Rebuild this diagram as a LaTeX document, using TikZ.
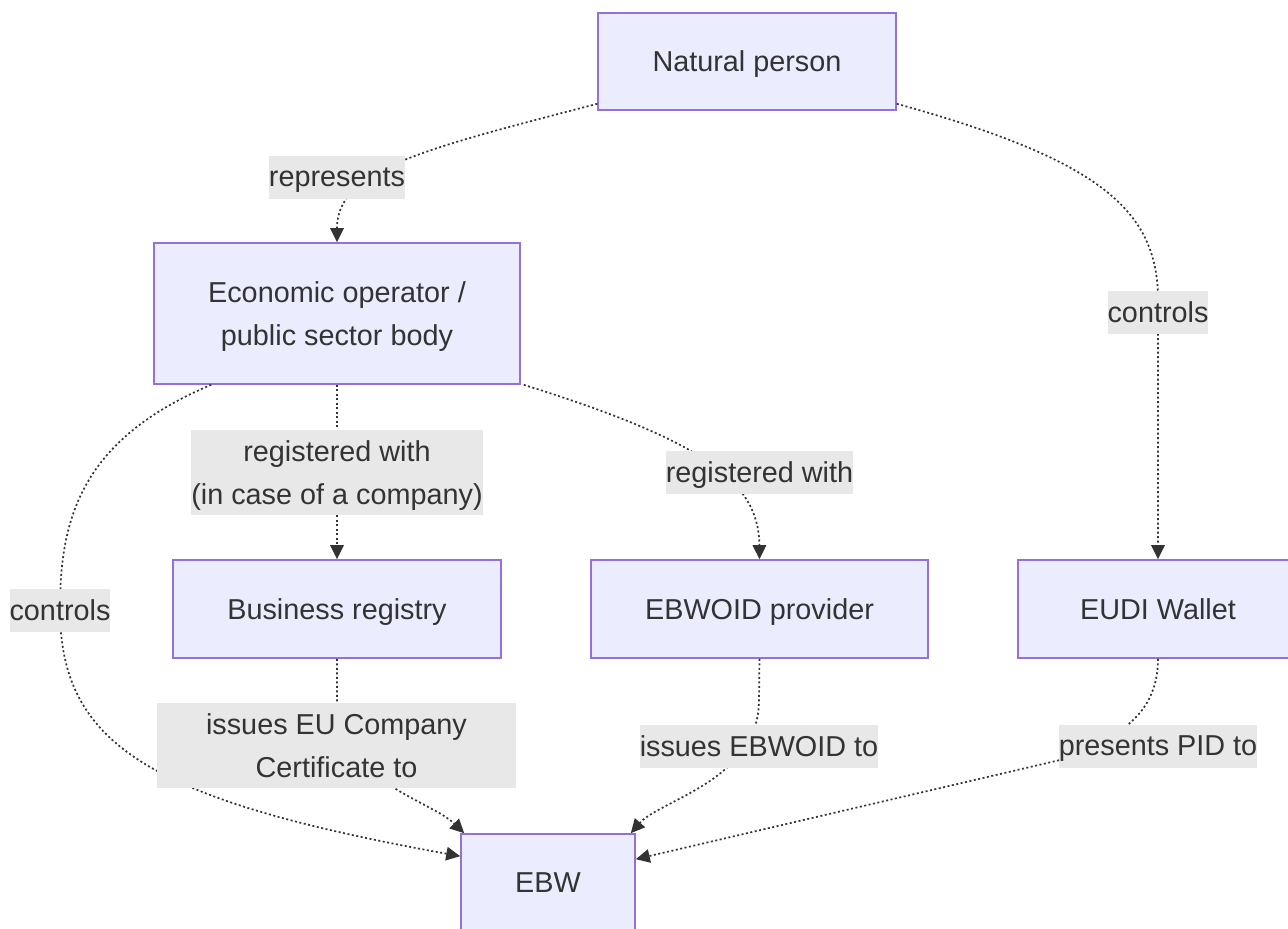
\documentclass[tikz,border=0pt]{standalone}
\usepackage{fontspec}
\setmainfont{Liberation Sans}
\usetikzlibrary{arrows.meta,calc}
\definecolor{boxfill}{HTML}{ECECFF}
\definecolor{boxline}{HTML}{9370DB}
\definecolor{ink}{HTML}{333333}
\definecolor{labelbg}{HTML}{E8E8E8}

\begin{document}
\begin{tikzpicture}[x=1pt,y=-1pt,
  every node/.style={font=\fontsize{28.8}{43}\selectfont, text=ink, text depth=0pt},
  box/.style={draw=boxline, fill=boxfill, line width=1.6pt, inner sep=0pt, align=center},
  elabel/.style={fill=labelbg, inner sep=0pt, align=center, minimum height=43pt},
  edge/.style={draw=ink, line width=1.7pt, dash pattern=on 2pt off 2.5pt,
    -{Triangle[length=14pt,width=13.5pt]}}]

\useasboundingbox (0,0) rectangle (1288,929);

% entities
\node[box, minimum width=298pt, minimum height=97pt] (np) at (747,61.5) {Natural person};
\node[box, minimum width=366pt, minimum height=141pt] (eco) at (337,313.5) {Economic operator /\\public sector body};
\node[box, minimum width=328pt, minimum height=98pt] (bus) at (337,609) {Business registry};
\node[box, minimum width=337pt, minimum height=98pt] (ebwoid) at (759.5,609) {EBWOID provider};
\node[box, minimum width=280pt, minimum height=98pt] (wal) at (1158,609) {EUDI Wallet};
\node[box, minimum width=174pt, minimum height=98pt] (ebw) at (548,883) {EBW};

% relations
\draw[edge] ([yshift=7pt]np.south west) .. controls (420,150) and (337,170) .. (eco.north);
\draw[edge] ([yshift=7pt]np.south east) .. controls (1100,160) and (1158,210) .. (1158,300) -- (wal.north);
\draw[edge] (eco.south) -- (bus.north);
\draw[edge] ([xshift=3pt]eco.south east) .. controls (700,440) and (759,480) .. (ebwoid.north);
\draw[edge] ([xshift=58pt]eco.south west) .. controls (80,440) and (60,520) .. (60,609)
  .. controls (60,745) and (150,800) .. ([yshift=-23pt]ebw.north west);
\draw[edge] (bus.south) -- (337,700) .. controls (337,780) and (430,800) .. ([xshift=4pt]ebw.north west);
\draw[edge] (ebwoid.south) -- (759,700) .. controls (759,780) and (660,800) .. ([xshift=-5pt]ebw.north east);
\draw[edge] (wal.south) .. controls (1158,720) and (1110,740) .. (1060,760) -- ([yshift=-26pt]ebw.north east);

% relation labels
\node[elabel] (l1) at (337,177) {represents};
\node[elabel] (l2) at (1158,312.5) {controls};
\node[elabel] (l3) at (60,610) {controls};
\node[elabel, minimum height=85pt] (l4) at (337,472.5) {registered with\\(in case of a company)};
\node[elabel] (l5) at (759.5,472) {registered with};
\node[elabel, minimum height=85pt, minimum width=359pt] (l6) at (336.5,745.5) {issues EU Company\\Certificate to};
\node[elabel] (l7) at (759,746) {issues EBWOID to};
\node[elabel] (l8) at (1158,746) {presents PID to};
\end{tikzpicture}
\end{document}
